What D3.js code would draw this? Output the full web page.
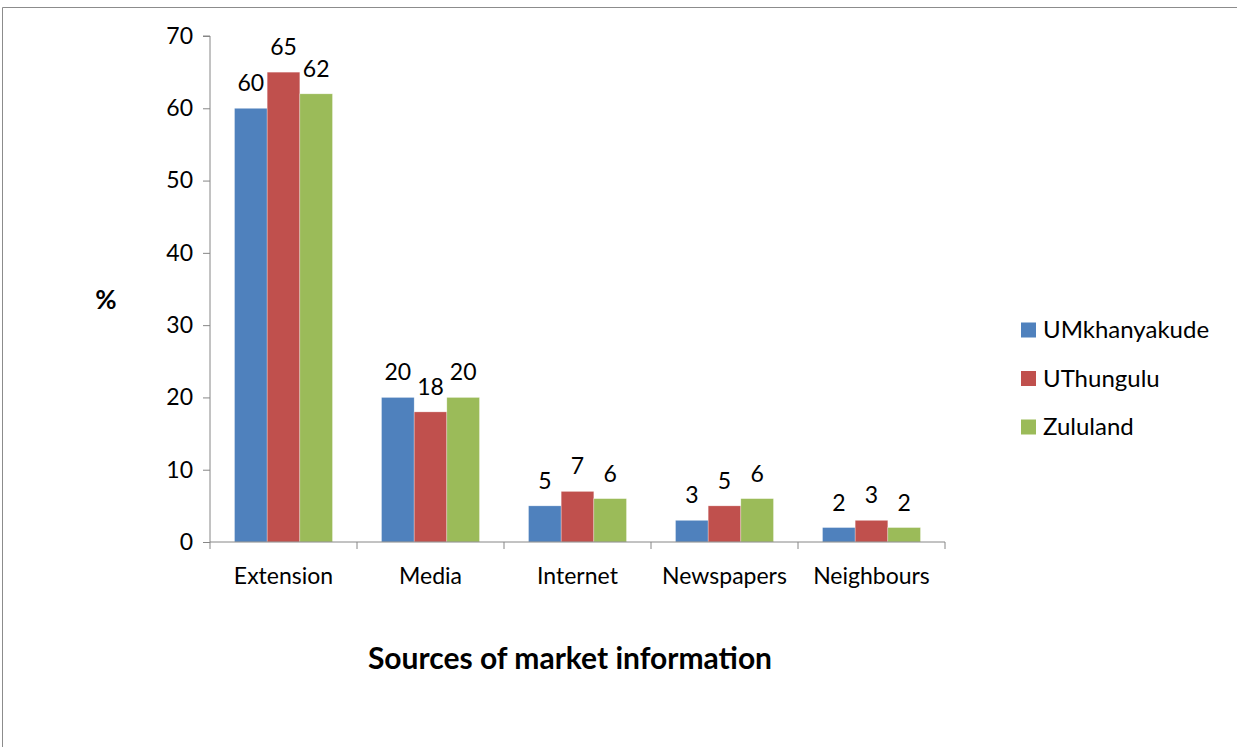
<!DOCTYPE html>
<html>
<head>
<meta charset="utf-8">
<script src="https://cdn.jsdelivr.net/npm/d3@7"></script>
<style>
  body { margin: 0; background: #fff; }
  svg { display: block; font-family: Lato, "Open Sans", sans-serif; }
</style>
</head>
<body>
<svg width="1237" height="747"></svg>
<script>
// sources of market information, % of farmers per district
const categories = ['Extension', 'Media', 'Internet', 'Newspapers', 'Neighbours'];
const seriesNames = ['UMkhanyakude', 'UThungulu', 'Zululand'];
const umkhanyakude = [60, 20, 5, 3, 2];
const uthungulu = [65, 18, 7, 5, 3];
const zululand = [62, 20, 6, 6, 2];
const yTicks = [0, 10, 20, 30, 40, 50, 60, 70];

const colors = ['#4f81bd', '#c0504d', '#9bbb59'];
const allSeries = [umkhanyakude, uthungulu, zululand];

const svg = d3.select('svg');

// outer frame (only top and left are visible in the picture)
svg.append('path')
  .attr('d', 'M2.5,747 V7.5 H1237')
  .attr('fill', 'none')
  .attr('stroke', '#8c8c8c')
  .attr('stroke-width', 1);

const plotLeft = 210, plotRight = 945, plotTop = 36, plotBottom = 542;

const x = d3.scaleBand()
  .domain(categories)
  .range([plotLeft, plotRight]);

const xInner = d3.scaleBand()
  .domain(seriesNames)
  .range([x.bandwidth() / 6, x.bandwidth() * 5 / 6]);

const y = d3.scaleLinear()
  .domain([0, 70])
  .range([plotBottom, plotTop]);

// y axis
const yAxis = svg.append('g')
  .attr('transform', `translate(${plotLeft},0)`)
  .call(d3.axisLeft(y).tickValues(yTicks).tickSize(7).tickPadding(10));
yAxis.select('.domain').attr('stroke', '#868686').attr('d', `M-7,${plotTop}H0V${plotBottom}`);
yAxis.selectAll('.tick line').attr('stroke', '#868686');
yAxis.selectAll('.tick text')
  .attr('font-size', '23px')
  .attr('font-family', 'Lato, sans-serif')
  .attr('fill', '#000');

// bars
const rows = [];
categories.forEach((c, i) => {
  seriesNames.forEach((s, j) => {
    rows.push({ cat: c, series: s, value: allSeries[j][i], color: colors[j] });
  });
});

svg.append('g').selectAll('rect')
  .data(rows)
  .enter()
  .append('rect')
  .attr('x', d => x(d.cat) + xInner(d.series))
  .attr('y', d => y(d.value))
  .attr('width', xInner.bandwidth())
  .attr('height', d => y(0) - y(d.value))
  .attr('fill', d => d.color)
  .attr('stroke', '#fff')
  .attr('stroke-opacity', 0.5)
  .attr('stroke-width', 0.6);

// value labels
svg.append('g').selectAll('text')
  .data(rows)
  .enter()
  .append('text')
  .attr('x', d => x(d.cat) + xInner(d.series) + xInner.bandwidth() / 2)
  .attr('y', d => y(d.value) - 17)
  .attr('text-anchor', 'middle')
  .attr('font-size', '23px')
  .attr('fill', '#000')
  .text(d => d.value);

// x axis
const xAxis = svg.append('g')
  .attr('transform', `translate(0,${plotBottom})`);
xAxis.append('line')
  .attr('x1', plotLeft).attr('x2', plotRight)
  .attr('stroke', '#868686');
xAxis.selectAll('.xt')
  .data(categories.concat(['end']))
  .enter()
  .append('line')
  .attr('class', 'xt')
  .attr('x1', (d, i) => plotLeft + i * x.step())
  .attr('x2', (d, i) => plotLeft + i * x.step())
  .attr('y1', 0).attr('y2', 7)
  .attr('stroke', '#868686');
xAxis.selectAll('.xl')
  .data(categories)
  .enter()
  .append('text')
  .attr('class', 'xl')
  .attr('x', d => x(d) + x.bandwidth() / 2)
  .attr('y', 42)
  .attr('text-anchor', 'middle')
  .attr('font-size', '23px')
  .attr('fill', '#000')
  .text(d => d);

// axis titles
svg.append('text')
  .attr('x', 106)
  .attr('y', 309)
  .attr('text-anchor', 'middle')
  .attr('font-size', '26px')
  .attr('font-weight', 'bold')
  .text('%');

svg.append('text')
  .attr('x', 570)
  .attr('y', 669)
  .attr('text-anchor', 'middle')
  .attr('font-size', '30px')
  .attr('font-weight', 'bold')
  .text('Sources of market information');

// legend
const legend = svg.append('g')
  .attr('transform', 'translate(1021,330)');
const items = legend.selectAll('g')
  .data(seriesNames)
  .enter()
  .append('g')
  .attr('transform', (d, i) => `translate(0,${i * 48.5})`);
items.append('rect')
  .attr('x', 0).attr('y', -7.5)
  .attr('width', 15).attr('height', 15)
  .attr('fill', (d, i) => colors[i]);
items.append('text')
  .attr('x', 22)
  .attr('y', 8)
  .attr('font-size', '24px')
  .attr('fill', '#000')
  .text(d => d);
</script>
</body>
</html>
